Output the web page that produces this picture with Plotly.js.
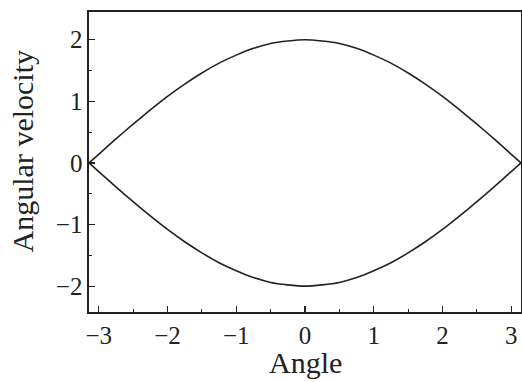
<!DOCTYPE html>
<html>
<head>
<meta charset="utf-8">
<script src="https://cdn.plot.ly/plotly-3.0.1.min.js"></script>
<style>
  html, body { margin: 0; padding: 0; background: #fff; }
  #chart { width: 522px; height: 382px; }
</style>
</head>
<body>
<div id="chart"></div>
<script>
// Pendulum separatrix: angular velocity against angle
const angle = [-3.1416, -3.0, -2.75, -2.5, -2.25, -2.0, -1.75, -1.5, -1.25, -1.0, -0.75, -0.5, -0.25, 0,
               0.25, 0.5, 0.75, 1.0, 1.25, 1.5, 1.75, 2.0, 2.25, 2.5, 2.75, 3.0, 3.1416];
const upperVelocity = [0, 0.14, 0.39, 0.63, 0.86, 1.08, 1.28, 1.46, 1.62, 1.75, 1.86, 1.94, 1.98, 2.0,
                       1.98, 1.94, 1.86, 1.75, 1.62, 1.46, 1.28, 1.08, 0.86, 0.63, 0.39, 0.14, 0];
const lowerVelocity = [0, -0.14, -0.39, -0.63, -0.86, -1.08, -1.28, -1.46, -1.62, -1.75, -1.86, -1.94, -1.98, -2.0,
                       -1.98, -1.94, -1.86, -1.75, -1.62, -1.46, -1.28, -1.08, -0.86, -0.63, -0.39, -0.14, 0];
const xTicks = [-3, -2, -1, 0, 1, 2, 3];
const xTickText = ['\u22123', '\u22122', '\u22121', '0', '1', '2', '3'];
const yTicks = [-2, -1, 0, 1, 2];
const yTickText = ['\u22122', '\u22121', '0', '1', '2'];
const xTitle = 'Angle';
const yTitle = 'Angular velocity';

const lineStyle = { color: '#222', width: 1.6, shape: 'spline', smoothing: 0.6 };

const traces = [
  { x: angle, y: upperVelocity, mode: 'lines', line: lineStyle, hoverinfo: 'skip' },
  { x: angle, y: lowerVelocity, mode: 'lines', line: lineStyle, hoverinfo: 'skip' }
];

const family = '"Liberation Serif", "DejaVu Serif", serif';
const tickFont = { family: family, size: 25, color: '#222' };
const titleFont = { family: family, size: 30, color: '#222' };

const layout = {
  width: 522, height: 382,
  margin: { l: 89, r: 1, t: 12, b: 70 },
  paper_bgcolor: '#fff', plot_bgcolor: '#fff',
  showlegend: false,
  font: tickFont,
  xaxis: {
    range: [-3.1416, 3.1416],
    tickvals: xTicks, ticktext: xTickText,
    ticks: 'inside', ticklen: 6, tickwidth: 1.2, tickcolor: '#222',
    minor: { dtick: 0.5, tick0: 0, ticks: 'inside', ticklen: 3, tickcolor: '#222' },
    showline: true, linecolor: '#222', linewidth: 1.6, mirror: true,
    showgrid: false, zeroline: false,
    tickfont: tickFont
  },
  yaxis: {
    range: [-2.42, 2.45],
    tickvals: yTicks, ticktext: yTickText,
    ticks: 'inside', ticklen: 6, tickwidth: 1.2, tickcolor: '#222',
    minor: { dtick: 0.5, tick0: 0, ticks: 'inside', ticklen: 3, tickcolor: '#222' },
    showline: true, linecolor: '#222', linewidth: 1.6, mirror: true,
    showgrid: false, zeroline: false,
    tickfont: tickFont
  },
  annotations: [
    {
      text: xTitle, font: titleFont,
      xref: 'paper', yref: 'paper', x: 0.5, y: -0.168,
      xanchor: 'center', yanchor: 'middle', showarrow: false
    },
    {
      text: yTitle, font: titleFont, textangle: -90,
      xref: 'paper', yref: 'paper', x: -0.153, y: 0.535,
      xanchor: 'center', yanchor: 'middle', showarrow: false
    }
  ]
};

Plotly.newPlot('chart', traces, layout, { staticPlot: true, displayModeBar: false });
</script>
</body>
</html>
